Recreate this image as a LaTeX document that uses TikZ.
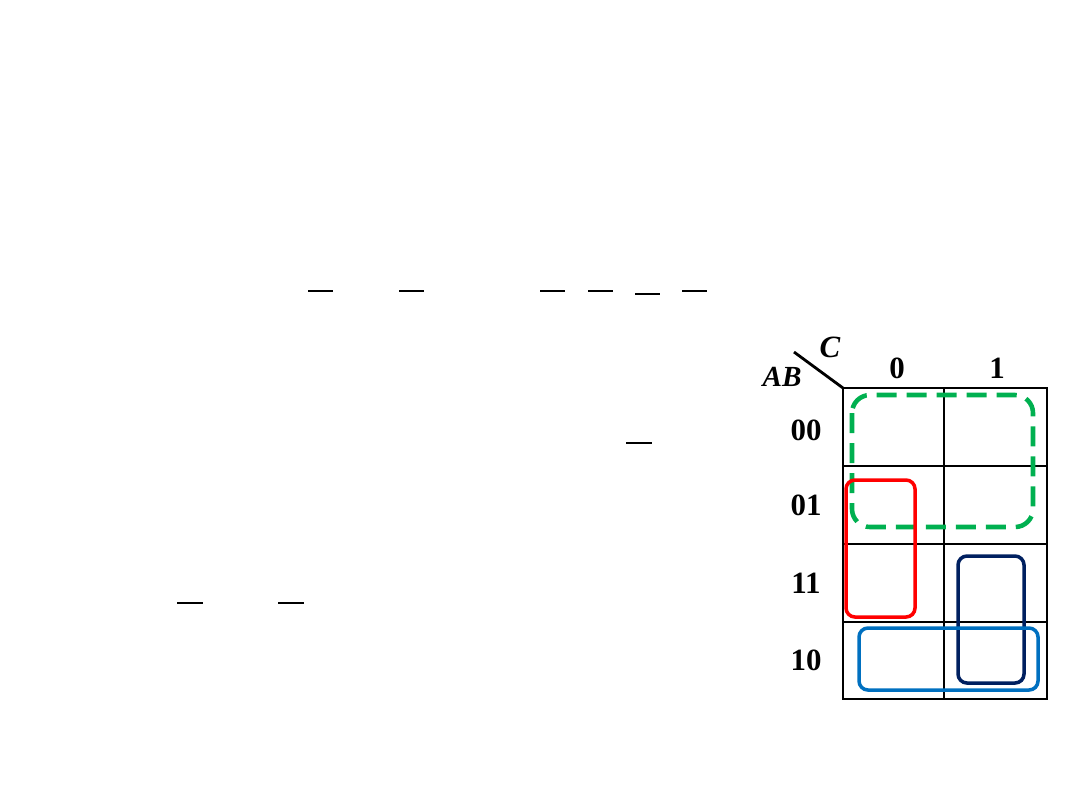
\documentclass[tikz,border=0pt]{standalone}
\usepackage{fontspec}
\setmainfont{Liberation Serif}
\definecolor{grpgreen}{HTML}{00B050}
\definecolor{grpred}{HTML}{FF0000}
\definecolor{grpnavy}{HTML}{002060}
\definecolor{grpblue}{HTML}{0070C0}
\tikzset{
  lbl/.style={font=\fontsize{8.8}{9}\selectfont\bfseries,inner sep=0pt},
  bar/.style={line width=0.5pt},
  loop/.style={line width=1pt,rounded corners=0.9mm}
}
\begin{document}
\begin{tikzpicture}
  \useasboundingbox (0,0) rectangle (10.8,-8.1);
  % k-map grid
  \draw[line width=0.8pt] (8.43,-3.88) rectangle (10.47,-6.99);
  \draw[line width=0.8pt] (9.44,-3.88) -- (9.44,-6.99);
  \foreach \y in {-4.66,-5.44,-6.22}
    \draw[line width=0.8pt] (8.43,\y) -- (10.47,\y);
  \coordinate (corner) at (8.43,-3.88);
  \coordinate (diag) at (7.94,-3.52);
  \draw[line width=0.8pt] (diag) -- (corner);
  \node[lbl,font=\fontsize{8.8}{9}\selectfont\bfseries\itshape] (c) at (8.30,-3.47) {C};
  \node[lbl,font=\fontsize{8.3}{9}\selectfont\bfseries\itshape] (ab) at (7.82,-3.77) {AB};
  \node[lbl] (c0) at (8.97,-3.68) {0};
  \node[lbl] (c1) at (9.97,-3.68) {1};
  \node[lbl] (r00) at (8.06,-4.30) {00};
  \node[lbl] (r01) at (8.06,-5.05) {01};
  \node[lbl] (r11) at (8.06,-5.83) {11};
  \node[lbl] (r10) at (8.06,-6.60) {10};
  % groups
  \draw[grpgreen,line width=1.3pt,rounded corners=1.8mm,dash pattern=on 2mm off 1mm] (8.52,-3.95) rectangle (10.33,-5.27);
  \draw[loop,grpred] (8.46,-4.80) rectangle (9.15,-6.17);
  \draw[loop,grpnavy] (9.58,-5.56) rectangle (10.24,-6.83);
  \draw[loop,grpblue] (8.59,-6.28) rectangle (10.38,-6.90);
  % bars
  \draw[bar] (3.08,-2.91) -- (3.33,-2.91);
  \draw[bar] (3.99,-2.91) -- (4.24,-2.91);
  \draw[bar] (5.40,-2.91) -- (5.65,-2.91);
  \draw[bar] (5.88,-2.91) -- (6.13,-2.91);
  \draw[bar] (6.35,-2.94) -- (6.60,-2.94);
  \draw[bar] (6.82,-2.91) -- (7.07,-2.91);
  \draw[bar] (6.26,-4.43) -- (6.52,-4.43);
  \draw[bar] (1.77,-6.03) -- (2.03,-6.03);
  \draw[bar] (2.78,-6.03) -- (3.04,-6.03);
\end{tikzpicture}
\end{document}
